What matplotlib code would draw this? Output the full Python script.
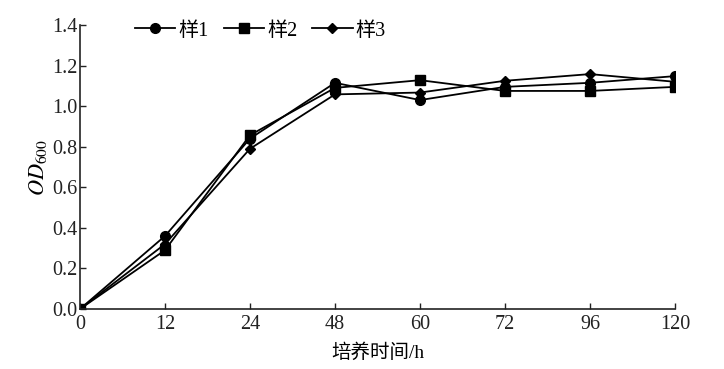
import matplotlib
matplotlib.use("Agg")
import matplotlib.pyplot as plt
import numpy as np

plt.rcParams['font.family'] = ['Liberation Serif', 'Noto Sans CJK SC']
plt.rcParams['mathtext.fontset'] = 'stix'

times = ['0', '12', '24', '48', '60', '72', '96', '120']
s1 = [0.0, 0.36, 0.84, 1.115, 1.03, 1.095, 1.115, 1.148]
s2 = [0.0, 0.29, 0.857, 1.09, 1.128, 1.075, 1.075, 1.095]
s3 = [0.0, 0.32, 0.79, 1.058, 1.067, 1.125, 1.158, 1.12]
labels = ['样1', '样2', '样3']

fig = plt.figure(figsize=(7.24, 3.69), dpi=100)
ax = fig.add_axes([80/724, 1-309/369, 595/724, 284/369])
x = np.arange(len(times))
ax.plot(x, s1, color='black', lw=1.3, marker='o', ms=7, label=labels[0])
ax.plot(x, s2, color='black', lw=1.3, marker='s', ms=7, label=labels[1])
ax.plot(x, s3, color='black', lw=1.3, marker='D', ms=5, label=labels[2])

ax.set_xlim(0, len(times)-1)
ax.set_ylim(0, 1.4)
ax.set_xticks(x)
ax.set_xticklabels(times)
ax.set_yticks(np.arange(0, 1.41, 0.2))
ax.set_yticklabels([f'{v:.1f}' for v in np.arange(0, 1.41, 0.2)])
ax.tick_params(direction='in', labelsize=14.5, length=4, width=1, colors='#222222')
ax.tick_params(axis='x', pad=4)
ax.tick_params(axis='y', pad=2)
for s in ['top', 'right']:
    ax.spines[s].set_visible(False)
for s in ['left', 'bottom']:
    ax.spines[s].set_linewidth(1.2)
    ax.spines[s].set_color('#222222')
ax.set_xlabel('培养时间/h', fontsize=14, labelpad=7)
ax.set_ylabel('$OD_{600}$', fontsize=16, labelpad=2)

leg = ax.legend(loc='center left', bbox_to_anchor=(55/595, 1 - 6/284), ncol=3, frameon=False,
                fontsize=14.5, handlelength=2.0, columnspacing=0.75, handletextpad=0.15,
                borderaxespad=0, borderpad=0)
fig.savefig('out.png', dpi=100)
